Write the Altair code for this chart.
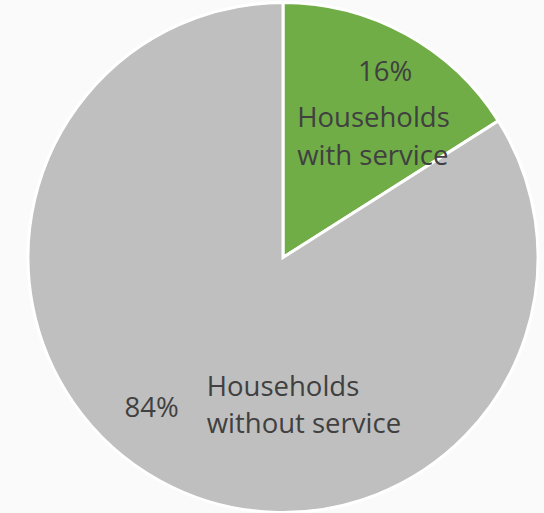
import altair as alt
import pandas as pd

categories = ["Households with service", "Households without service"]
shares = [16, 84]
pct_labels = ["16%", "84%"]
cat_lines = [["Households", "with service"], ["Households", "without service"]]
colors = ["#70AD47", "#BFBFBF"]

df = pd.DataFrame({
    "order": [0, 1],
    "category": categories,
    "share": shares,
    "pct": pct_labels,
    "lines": cat_lines,
})

FONT = "Open Sans"
FS = 27.5
TXT = "#404040"

base = alt.Chart(df).encode(
    theta=alt.Theta("share:Q", stack=True),
    order=alt.Order("order:Q"),
)

pie = base.mark_arc(outerRadius=255, stroke="white", strokeWidth=3).encode(
    color=alt.Color("category:N", scale=alt.Scale(domain=categories, range=colors), legend=None)
)

def label(cat, field, radius, dx, dy, align):
    expr = f"datum.category == '{cat}' ? datum['{field}'] : ''"
    return base.transform_calculate(lbl=expr).mark_text(
        radius=radius, dx=dx, dy=dy, align=align, baseline="middle",
        font=FONT, fontSize=FS, color=TXT, lineHeight=37.5,
    ).encode(text=alt.Text("lbl:N"))

layers = [
    pie,
    label(categories[0], "pct", 212, 0, 1, "center"),
    label(categories[0], "lines", 150, -58, -7, "left"),
    label(categories[1], "pct", 200, -35, -24, "center"),
    label(categories[1], "lines", 150, -4, -1, "left"),
]

chart = alt.layer(*layers).properties(
    width=522, height=511,
    padding={"left": 22, "top": 2, "right": 0, "bottom": 0},
    autosize=alt.AutoSizeParams(type="none"),
    background="#fafafa",
).configure_view(stroke=None)

chart.save("out.html", embed_options={"renderer": "svg", "actions": False})
